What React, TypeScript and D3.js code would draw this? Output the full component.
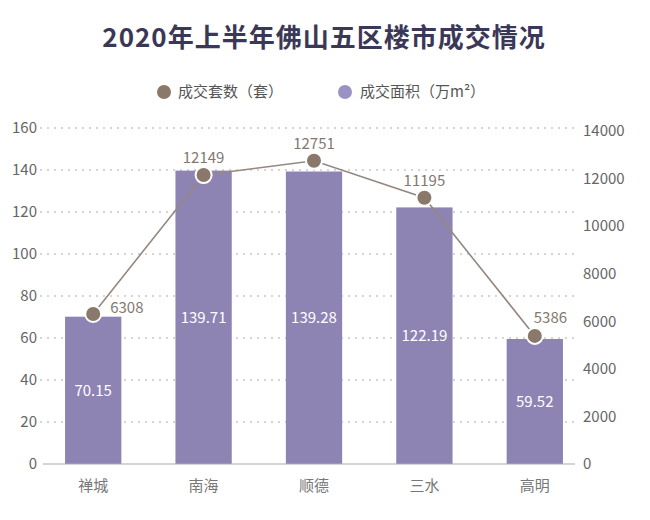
import React from "react";
import * as d3 from "d3";

const categories = ["禅城", "南海", "顺德", "三水", "高明"];
const areaValues = [70.15, 139.71, 139.28, 122.19, 59.52];
const unitValues = [6308, 12149, 12751, 11195, 5386];
const leftTicks = [0, 20, 40, 60, 80, 100, 120, 140, 160];
const rightTicks = [0, 2000, 4000, 6000, 8000, 10000, 12000, 14000];
const title = "2020年上半年佛山五区楼市成交情况";
const legendLabels = ["成交套数（套）", "成交面积（万m²）"];

const W = 650;
const H = 520;
const FONT = "'Noto Sans CJK SC', 'Noto Sans', sans-serif";
const BAR = "#8e84b4";
const LINE = "#958880";
const DOT = "#8a786b";

export default function App() {
  const x = d3.scaleBand<string>().domain(categories).range([38, 590]).paddingInner(0.49).paddingOuter(0.245);
  const yL = d3.scaleLinear().domain([0, 160]).range([464, 128]);
  const yR = d3.scaleLinear().domain([0, 14000]).range([464, 131]);
  const cx = (c: string) => (x(c) as number) + x.bandwidth() / 2;

  const line = d3
    .line<number>()
    .x((_, i) => cx(categories[i]))
    .y((d) => yR(d));

  const labelPos = (i: number) => {
    const px = cx(categories[i]);
    const py = yR(unitValues[i]);
    if (i === 0) return { x: px + 17, y: py - 6, anchor: "start" };
    if (i === categories.length - 1) return { x: px - 1, y: py - 18, anchor: "start" };
    return { x: px, y: py - 17, anchor: "middle" };
  };

  return (
    <div style={{ position: "absolute", left: 0, top: 0 }}>
      <svg width={W} height={H} style={{ display: "block", background: "#fff" }} fontFamily={FONT}>
        <text x={324} y={47} textAnchor="middle" fontSize={26} fontWeight={700} fill="#3b3857" letterSpacing={1}>
          {title}
        </text>

        <circle cx={164} cy={92} r={7} fill={DOT} />
        <text x={178} y={92} dy="0.35em" fontSize={15} fill="#555">
          {legendLabels[0]}
        </text>
        <circle cx={345} cy={92} r={7} fill="#9b92c3" />
        <text x={360} y={92} dy="0.35em" fontSize={15} fill="#555">
          {legendLabels[1]}
        </text>

        {leftTicks.slice(1).map((t) => (
          <line key={t} x1={40} x2={576} y1={yL(t)} y2={yL(t)} stroke="#c8c8c8" strokeWidth={1.3} strokeDasharray="2 5" />
        ))}

        {leftTicks.map((t) => (
          <text key={t} x={37} y={yL(t)} dy="0.35em" textAnchor="end" fontSize={15} fill="#666">
            {t}
          </text>
        ))}
        {rightTicks.map((t) => (
          <text key={t} x={583} y={yR(t)} dy="0.35em" textAnchor="start" fontSize={15} fill="#666">
            {t}
          </text>
        ))}

        {categories.map((c, i) => (
          <rect key={c} x={x(c)} y={yL(areaValues[i])} width={x.bandwidth()} height={yL(0) - yL(areaValues[i])} fill={BAR} />
        ))}
        {categories.map((c, i) => (
          <text key={c} x={cx(c)} y={yL(areaValues[i] / 2)} dy="0.35em" textAnchor="middle" fontSize={15} fill="#fff">
            {areaValues[i].toFixed(2)}
          </text>
        ))}

        <line x1={43} x2={575} y1={yL(0)} y2={yL(0)} stroke="#aaa" strokeWidth={1.2} />

        {categories.map((c) => (
          <text key={c} x={cx(c)} y={486} dy="0.35em" textAnchor="middle" fontSize={15} fill="#777">
            {c}
          </text>
        ))}

        <path d={line(unitValues) || ""} fill="none" stroke={LINE} strokeWidth={1.6} />
        {unitValues.map((v, i) => (
          <circle key={i} cx={cx(categories[i])} cy={yR(v)} r={8} fill={DOT} stroke="#fff" strokeWidth={2} />
        ))}
        {unitValues.map((v, i) => {
          const p = labelPos(i);
          return (
            <text key={i} x={p.x} y={p.y} dy="0.35em" textAnchor={p.anchor as any} fontSize={15} fill="#85786f">
              {v}
            </text>
          );
        })}
      </svg>
    </div>
  );
}
